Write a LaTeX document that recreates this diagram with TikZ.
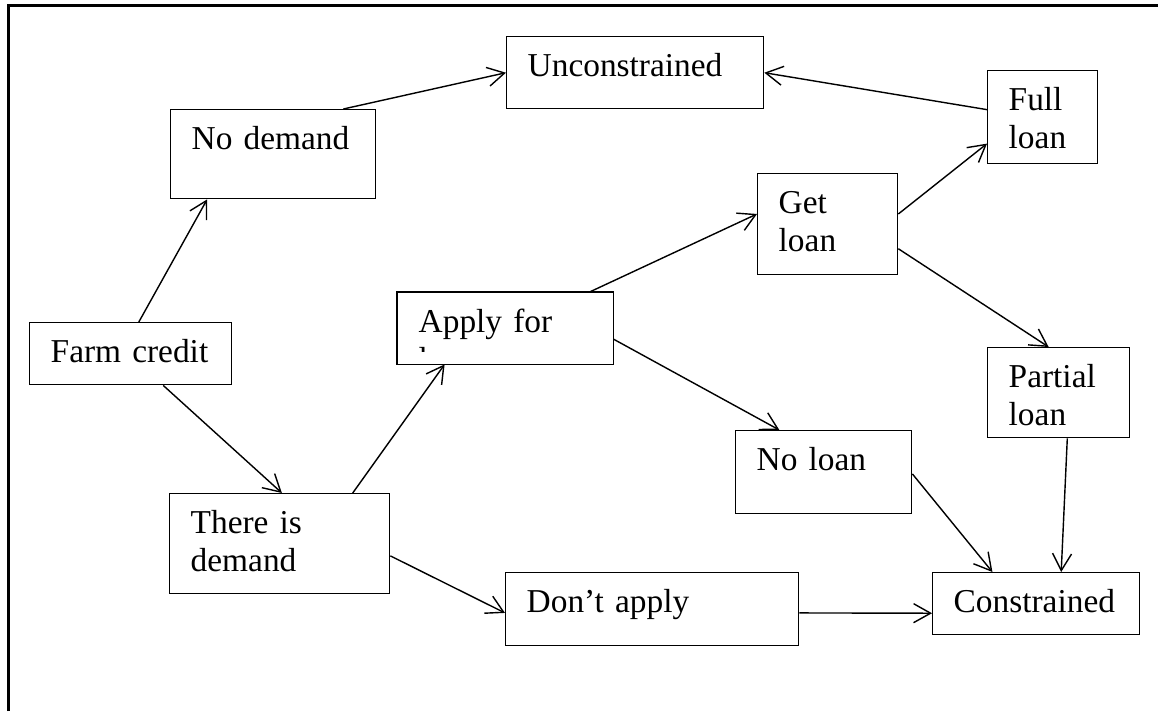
\documentclass[tikz,border=0pt]{standalone}
\usepackage{fontspec}
\setmainfont{Liberation Serif}
\usetikzlibrary{arrows.meta,calc}

\begin{document}
\begin{tikzpicture}[x=0.02cm,y=-0.02cm,
                    box/.style={draw,line width=0.8pt,anchor=north west,inner xsep=0.42cm,inner ysep=0pt,
                                align=left,text height=0.8cm,font=\fontsize{19}{21.6}\selectfont},
                    edge/.style={-{Straight Barb[length=3.4mm,width=3.8mm]},line width=0.8pt}]
  \useasboundingbox (0,0) rectangle (1158,711);
  % page frame
  \draw[line width=1.5pt] (8.5,711) -- (8.5,5.5) -- (1158,5.5);

  \node[box,text width=4.30cm,text depth=0.64cm] (unc) at (506,36) {Unconstrained};
  \node[box,text width=1.36cm,text depth=1.06cm] (full) at (987,70) {Full\\loan};
  \node[box,text width=3.26cm,text depth=0.98cm] (nodem) at (170,109) {No demand};
  \node[box,text width=1.96cm,text depth=1.22cm] (get) at (757,173) {Get\\loan};
  \begin{scope}
    \clip (380,280) rectangle (630,351);
    \node[box,draw=none,text width=3.46cm,text depth=0.62cm] (apply) at (397,292) {Apply for\\loan};
  \end{scope}
  \draw[line width=0.8pt] (apply.north west) rectangle (apply.south east);
  \node[box,text width=3.20cm,text depth=0.44cm] (farm) at (29,322) {Farm credit};
  \node[box,text width=2.00cm,text depth=1.00cm] (partial) at (987,347) {Partial\\loan};
  \node[box,text width=2.68cm,text depth=0.86cm] (noloan) at (735,430) {No loan};
  \node[box,text width=3.56cm,text depth=1.20cm] (there) at (169,493) {There is\\demand};
  \node[box,text width=5.02cm,text depth=0.66cm] (dont) at (505,572) {Don’t apply};
  \node[box,text width=3.30cm,text depth=0.44cm] (cons) at (932,572) {Constrained};

  \draw[edge] ($(nodem.north west)!0.84!(nodem.north east)$) -- (unc.west);
  \draw[edge] ($(full.north west)!0.42!(full.south west)$) -- (unc.east);
  \draw[edge] ($(farm.north west)!0.54!(farm.north east)$) -- ($(nodem.south west)!0.18!(nodem.south east)$);
  \draw[edge] ($(farm.south west)!0.66!(farm.south east)$) -- ($(there.north west)!0.51!(there.north east)$);
  \draw[edge] ($(there.north west)!0.83!(there.north east)$) -- ($(apply.south west)!0.22!(apply.south east)$);
  \draw[edge] ($(there.north east)!0.62!(there.south east)$) -- ($(dont.north west)!0.55!(dont.south west)$);
  \draw[edge] ($(apply.north west)!0.89!(apply.north east)$) -- ($(get.north west)!0.4!(get.south west)$);
  \draw[edge] ($(apply.north east)!0.65!(apply.south east)$) -- ($(noloan.north west)!0.25!(noloan.north east)$);
  \draw[edge] ($(get.north east)!0.4!(get.south east)$) -- ($(full.north west)!0.78!(full.south west)$);
  \draw[edge] ($(get.north east)!0.74!(get.south east)$) -- ($(partial.north west)!0.43!(partial.north east)$);
  \draw[edge] ($(noloan.north east)!0.52!(noloan.south east)$) -- ($(cons.north west)!0.29!(cons.north east)$);
  \draw[edge] ($(partial.south west)!0.56!(partial.south east)$) -- ($(cons.north west)!0.62!(cons.north east)$);
  \draw[edge] ($(dont.north east)!0.55!(dont.south east)$) -- ($(cons.north west)!0.65!(cons.south west)$);
\end{tikzpicture}
\end{document}
